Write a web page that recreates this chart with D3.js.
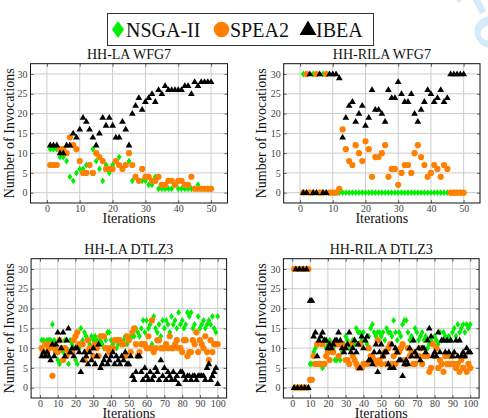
<!DOCTYPE html>
<html><head><meta charset="utf-8">
<script src="https://cdn.jsdelivr.net/npm/d3@7"></script>
<style>body{margin:0;background:#fff}svg{display:block}</style>
</head><body><svg id="c" width="488" height="418"></svg>
<script>
// ---------- data ----------
const seriesNames = ["NSGA-II", "SPEA2", "IBEA"];
const panelTitles = ["HH-LA WFG7", "HH-RILA WFG7", "HH-LA DTLZ3", "HH-RILA DTLZ3"];
const yTicks = [0, 5, 10, 15, 20, 25, 30];
const xTicksWFG = [0, 10, 20, 30, 40, 50];
const xTicksDTLZ = [0, 10, 20, 30, 40, 50, 60, 70, 80, 90, 100];

const laWfgNsga = [11,11,11,9,9,8,4,3,5,6, 6,7,7,11,8,6,3,7,5,7, 8,9,6,7,8,3,4,3,3,3, 2,2,4,1,1,1,1,1,2,1, 1,1,1,1,1,2,1,1,1,1];
const laWfgSpea = [7,7,7,11,11,10,14,12,11,8, 5,5,7,5,10,9,8,6,6,6, 8,7,6,7,10,7,4,3,6,4, 4,3,3,4,2,2,3,3,2,3, 3,2,2,4,1,1,1,1,1,1];
const laWfgIbea = [12,12,12,10,10,12,12,15,14,16, 19,18,16,14,12,15,19,17,19,17, 14,14,18,16,12,20,22,24,21,23, 24,25,23,26,25,27,26,26,26,26, 26,27,27,25,28,27,28,28,28,28];

const rilaWfgNsga = [30,0,0,30,0,0,30,0,0,0, 0,0,0,0,0,0,0,0,0,0, 0,0,0,0,0,0,0,0,0,0, 0,0,0,0,0,0,0,0,0,0, 0,0,0,0,0,0,0,0,0,0];
const rilaWfgSpea = [0,30,0,0,30,0,0,30,0,0, 0,1,16,11,8,7,12,10,8,13, 11,4,9,9,10,12,4,6,6,2, 5,7,7,5,10,12,9,7,4,5, 7,6,4,7,6,0,0,0,0,0];
const rilaWfgIbea = [0,0,30,0,0,30,0,0,30,30, 30,29,14,19,22,23,18,20,22,17, 19,26,21,21,20,18,26,24,24,28, 25,23,23,25,20,18,21,23,26,25, 23,24,26,23,24,30,30,30,30,30];

const laDtlzNsga = [12,12,11,12,12,12,16,12,10,7, 6,10,9,12,10,6,12,11,10,7, 6,10,15,12,14,13,12,11,13,12, 13,12,11,12,11,10,12,14,14,12, 11,12,10,11,12,11,12,13,11,12, 13,13,13,15,14,13,15,17,14,17, 15,16,11,18,15,14,16,13,17,15, 17,16,14,18,16,17,15,19,16,17, 15,16,19,18,19,15,16,14,18,15, 16,17,15,16,17,16,18,15,14,18];
const laDtlzSpea = [10,9,11,9,10,11,3,10,9,9, 12,10,7,10,8,9,9,9,12,13, 14,11,11,11,7,9,12,10,10,8, 11,10,8,13,13,13,10,10,9,10, 10,12,12,12,12,11,11,8,13,12, 9,14,15,11,8,9,11,11,11,10, 13,10,17,9,10,12,12,10,10,10, 11,10,13,10,10,11,12,10,10,9, 12,12,8,9,9,12,11,14,9,12, 11,10,13,9,7,12,9,11,11,11];
const laDtlzIbea = [8,9,8,9,8,7,11,8,11,14, 12,10,14,8,12,15,9,10,8,10, 10,9,4,7,9,8,6,9,7,10, 6,8,11,5,6,7,8,6,7,8, 9,6,8,7,6,8,7,9,6,6, 8,3,2,4,8,8,4,2,5,3, 2,4,2,3,5,4,2,7,3,5, 2,4,3,2,4,2,3,1,4,4, 3,2,3,3,2,3,3,2,3,3, 3,3,2,5,6,2,3,4,5,1];

const rilaDtlzNsga = [0,0,0,0,0,0,0,0,0,6, 6,9,10,11,12,11,5,12,10,11, 12,9,10,7,7,8,7,9,11,13, 12,10,10,12,11,15,14,14,12,14, 12,11,13,15,16,14,13,14,14,13, 14,12,15,14,14,13,17,14,12,14, 13,16,17,17,14,12,13,12,15,14, 12,13,14,12,13,10,11,12,11,13, 12,11,14,12,14,13,12,13,12,14, 15,13,16,14,15,16,14,16,15,16];
const rilaDtlzSpea = [30,0,30,0,30,0,30,0,30,2, 2,8,6,11,6,6,11,6,8,9, 7,11,9,11,11,8,11,11,10,7, 7,6,11,8,7,6,5,11,5,6, 6,6,10,8,8,7,6,12,7,6, 8,9,6,10,11,6,8,6,9,9, 10,11,7,6,10,8,9,6,6,8, 8,10,6,8,8,8,4,5,11,8, 10,5,7,6,4,8,6,8,6,8, 6,5,6,4,7,5,8,4,6,5];
const rilaDtlzIbea = [0,30,0,30,0,30,0,30,0,22, 22,13,14,8,12,13,14,12,12,10, 11,10,11,12,12,14,12,10,9,10, 11,14,9,10,12,9,11,5,13,10, 12,13,7,7,6,9,11,4,9,11, 8,9,9,6,5,11,5,10,9,7, 7,3,6,7,6,10,8,12,9,8, 10,7,10,10,9,12,15,13,8,9, 8,14,9,12,12,9,12,9,12,8, 9,12,8,12,8,9,8,10,9,9];

// ---------- layout ----------
const colors = ["#00ee00", "#ff8000", "#000000"];
const serif = "'Liberation Serif','Times New Roman',serif";
const panels = [
  {title: panelTitles[0], xr: [30.5, 227.5], xd: [-5, 55], y0: 192.7, xt: xTicksWFG, yLabX: 13.5, data: [laWfgNsga, laWfgSpea, laWfgIbea]},
  {title: panelTitles[1], xr: [283.7, 480], xd: [-5, 55], y0: 192.7, xt: xTicksWFG, yLabX: 266, data: [rilaWfgNsga, rilaWfgSpea, rilaWfgIbea]},
  {title: panelTitles[2], xr: [31.1, 226.6], xd: [-5, 105], y0: 387.7, xt: xTicksDTLZ, yLabX: 13.5, data: [laDtlzNsga, laDtlzSpea, laDtlzIbea]},
  {title: panelTitles[3], xr: [283.4, 479.1], xd: [-5, 105], y0: 387.7, xt: xTicksDTLZ, yLabX: 266, data: [rilaDtlzNsga, rilaDtlzSpea, rilaDtlzIbea]}
];
const yUnit = 3.957, yd = [-2.6, 32.6];

const svg = d3.select("#c");
svg.append("rect").attr("width", 488).attr("height", 418).attr("fill", "#fff");

// watermark
svg.append("text").attr("transform", "translate(452,-8) rotate(62)")
  .attr("font-family", "'Liberation Sans',Arial,sans-serif").attr("font-weight", "bold")
  .attr("font-size", 58).attr("fill", "#d4ecf9").text("For Peer Review");

function markerPath(i, s) {
  if (i === 0) { const w = 2.4 * s, h = 3.4 * s; return `M0,${-h}L${w},0L0,${h}L${-w},0Z`; }
  if (i === 2) { const w = 3.4 * s, h = 5.8 * s; return `M0,${-h * 0.62}L${w},${h * 0.38}L${-w},${h * 0.38}Z`; }
  return null;
}
function drawMarker(g, i, x, y, s) {
  if (i === 1) g.append("circle").attr("cx", x).attr("cy", y).attr("r", 3.1 * s).attr("fill", colors[1]);
  else g.append("path").attr("transform", `translate(${x},${y})`).attr("d", markerPath(i, s)).attr("fill", colors[i]);
}

panels.forEach((p, pi) => {
  const x = d3.scaleLinear().domain(p.xd).range(p.xr);
  const y = d3.scaleLinear().domain(yd).range([p.y0 - yd[0] * yUnit, p.y0 - yd[1] * yUnit]);
  const top = y(yd[1]), bot = y(yd[0]);
  const g = svg.append("g");
  const cid = "clip" + pi;
  g.append("clipPath").attr("id", cid).append("rect")
    .attr("x", p.xr[0]).attr("y", top).attr("width", p.xr[1] - p.xr[0]).attr("height", bot - top);
  // grid
  g.selectAll(".gx").data(p.xt).join("line").attr("x1", d => x(d)).attr("x2", d => x(d))
    .attr("y1", top).attr("y2", bot).attr("stroke", "#cccccc").attr("stroke-width", 1);
  g.selectAll(".gy").data(yTicks).join("line").attr("y1", d => y(d)).attr("y2", d => y(d))
    .attr("x1", p.xr[0]).attr("x2", p.xr[1]).attr("stroke", "#cccccc").attr("stroke-width", 1);
  // axes via d3 (ticks inward)
  const ax = g.append("g").attr("transform", `translate(0,${bot})`)
    .call(d3.axisBottom(x).tickValues(p.xt).tickSize(-3).tickPadding(2).tickSizeOuter(0));
  const ay = g.append("g").attr("transform", `translate(${p.xr[0]},0)`)
    .call(d3.axisLeft(y).tickValues(yTicks).tickSize(-3).tickPadding(3).tickSizeOuter(0));
  const axT = g.append("g").attr("transform", `translate(0,${top})`)
    .call(d3.axisTop(x).tickValues(p.xt).tickSize(-3).tickFormat("").tickSizeOuter(0));
  const ayR = g.append("g").attr("transform", `translate(${p.xr[1]},0)`)
    .call(d3.axisRight(y).tickValues(yTicks).tickSize(-3).tickFormat("").tickSizeOuter(0));
  [ax, ay, axT, ayR].forEach(a => {
    a.select(".domain").remove();
    a.selectAll("line").attr("stroke", "#444").attr("stroke-width", 0.8);
    a.selectAll("text").attr("font-family", serif).attr("font-size", 10).attr("fill", "#444");
  });
  // points
  const pg = g.append("g").attr("clip-path", `url(#${cid})`);
  p.data.forEach((arr, si) => {
    arr.forEach((v, k) => drawMarker(pg, si, x(k + 1), y(v), 1));
  });
  // frame
  g.append("rect").attr("x", p.xr[0]).attr("y", top).attr("width", p.xr[1] - p.xr[0]).attr("height", bot - top)
    .attr("fill", "none").attr("stroke", "#111").attr("stroke-width", 1);
  // title
  const cx = (p.xr[0] + p.xr[1]) / 2;
  g.append("text").attr("x", cx).attr("y", top - 5).attr("text-anchor", "middle")
    .attr("font-family", serif).attr("font-size", 14).attr("fill", "#111").text(p.title);
  // x label
  g.append("text").attr("x", cx).attr("y", bot + 20.5).attr("text-anchor", "middle")
    .attr("font-family", serif).attr("font-size", 14).attr("fill", "#111").text("Iterations");
  // y label
  g.append("text").attr("transform", `translate(${p.yLabX},${(top + bot) / 2}) rotate(-90)`)
    .attr("text-anchor", "middle").attr("font-family", serif).attr("font-size", 14).attr("fill", "#111")
    .text("Number of Invocations");
});

// legend
const lg = svg.append("g");
lg.append("rect").attr("x", 107.5).attr("y", 13.5).attr("width", 266).attr("height", 32)
  .attr("fill", "#fff").attr("stroke", "#333").attr("stroke-width", 1);
const legendItems = [{mx: 118, tx: 126}, {mx: 221.5, tx: 230}, {mx: 308, tx: 316}];
legendItems.forEach((it, i) => {
  drawMarker(lg, i, it.mx, 29.5, 2.5);
  lg.append("text").attr("x", it.tx).attr("y", 36.5).attr("font-family", serif).attr("font-size", 20)
    .attr("fill", "#111").text(seriesNames[i]);
});
</script></body></html>
